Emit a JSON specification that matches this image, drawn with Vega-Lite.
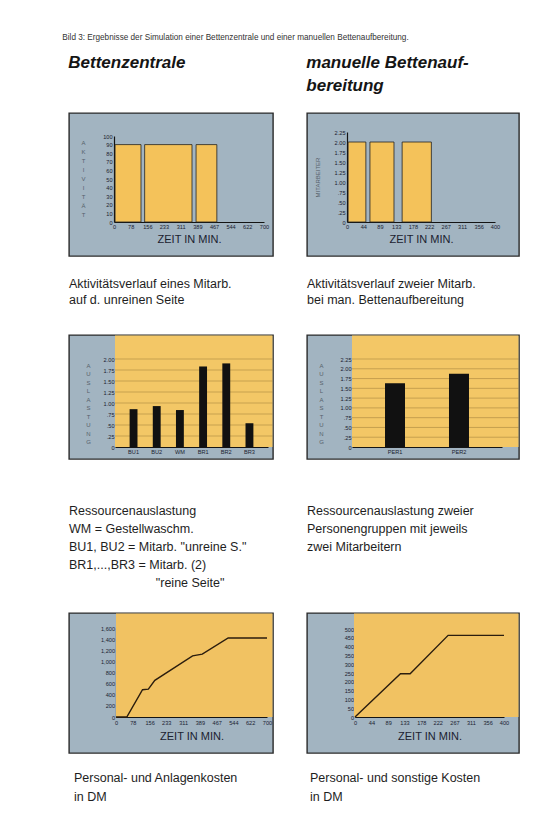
{
  "$schema": "https://vega.github.io/schema/vega-lite/v6.json",
  "background": "#ffffff",
  "padding": {"left": 62, "top": 33, "right": 4, "bottom": 4},
  "autosize": {"type": "pad"},
  "title": {"text": "Bild 3: Ergebnisse der Simulation einer Bettenzentrale und einer manuellen Bettenaufbereitung.", "anchor": "start", "fontSize": 8.2, "fontWeight": "normal", "color": "#333333", "dx": -6, "offset": 12},
  "spacing": 32,
  "hconcat": [
    {
      "title": {"text": ["Bettenzentrale", ""], "anchor": "start", "fontSize": 17, "fontWeight": "bold", "fontStyle": "italic", "lineHeight": 23, "offset": 17, "color": "#151515"},
      "spacing": 21,
      "vconcat": [
        {
          "width": 204, "height": 143,
          "title": {"text": ["Aktivitätsverlauf eines Mitarb.", "auf d. unreinen Seite"], "subtitle": " ", "subtitleFontSize": 4, "subtitlePadding": 1, "orient": "bottom", "anchor": "start", "offset": 22, "fontSize": 12.5, "lineHeight": 16},
          "data": {"values": [{"start": 5, "end": 126, "busy": 90}, {"start": 143, "end": 364, "busy": 90}, {"start": 383, "end": 480, "busy": 90}]},
          "mark": {"type": "rect", "fill": "#f4c25a", "stroke": "#222222", "strokeWidth": 0.8},
          "encoding": {
            "x": {"field": "start", "type": "quantitative", "scale": {"domain": [0, 700], "range": [45, 195], "nice": false, "zero": false}, "axis": {"values": [0, 78, 156, 233, 311, 389, 467, 544, 622, 700], "offset": -34, "title": "ZEIT IN MIN.", "titlePadding": 4}},
            "x2": {"field": "end"},
            "y": {"field": "busy", "type": "quantitative", "scale": {"domain": [0, 100], "range": [109, 23], "nice": false}, "axis": {"values": [0, 10, 20, 30, 40, 50, 60, 70, 80, 90, 100], "offset": -45, "title": ["A", "K", "T", "I", "V", "I", "T", "Ä", "T"], "titleAngle": 0, "titleX": -31, "titleY": 26, "titleAlign": "center", "titleBaseline": "top", "titleLineHeight": 9, "titleFontSize": 6, "titleColor": "#56616b"}},
            "y2": {"datum": 0}
          }
        },
        {
          "width": 204, "height": 124,
          "title": {"text": ["Ressourcenauslastung", "WM = Gestellwaschm.", "BU1, BU2 = Mitarb. \"unreine S.\"", "BR1,...,BR3 = Mitarb. (2)", "\u200b\u00a0\u00a0\u00a0\u00a0\u00a0\u00a0\u00a0\u00a0\u00a0\u00a0\u00a0\u00a0\u00a0\u00a0\u00a0\u00a0\u00a0\u00a0\u00a0\u00a0\u00a0\u00a0\u00a0\u00a0\u00a0\"reine Seite\""], "orient": "bottom", "anchor": "start", "offset": 46, "fontSize": 12.5, "lineHeight": 18},
          "resolve": {"scale": {"x": "independent", "y": "independent"}},
          "layer": [
            {
              "data": {"values": [{"area": "plot"}]},
              "mark": {"type": "rect", "fill": "#f3c766"},
              "encoding": {
                "x": {"datum": 0, "type": "quantitative", "scale": {"domain": [0, 1], "range": [46, 203.5]}, "axis": null},
                "x2": {"datum": 1},
                "y": {"datum": 0, "type": "quantitative", "scale": {"domain": [0, 1], "range": [112, 0.5]}, "axis": null},
                "y2": {"datum": 1}
              }
            },
            {
              "data": {"values": [{"g": 0.25}, {"g": 0.5}, {"g": 0.75}, {"g": 1}, {"g": 1.25}, {"g": 1.5}, {"g": 1.75}, {"g": 2}]},
              "mark": {"type": "rule", "color": "#6a5020", "opacity": 0.55, "strokeWidth": 0.6},
              "encoding": {
                "x": {"datum": 0, "type": "quantitative", "scale": {"domain": [0, 1], "range": [46, 203.5]}, "axis": null},
                "x2": {"datum": 1},
                "y": {"field": "g", "type": "quantitative", "scale": {"domain": [0, 2], "range": [112, 24], "nice": false}, "axis": null}
              }
            },
            {
              "data": {"values": [{"res": "BU1", "util": 0.86}, {"res": "BU2", "util": 0.93}, {"res": "WM", "util": 0.84}, {"res": "BR1", "util": 1.83}, {"res": "BR2", "util": 1.9}, {"res": "BR3", "util": 0.54}]},
              "mark": {"type": "bar", "color": "#111111"},
              "encoding": {
                "x": {"field": "res", "type": "nominal", "sort": null, "scale": {"type": "band", "range": [46, 199], "paddingInner": 0.66, "paddingOuter": 0.63}, "axis": {"labelAngle": 0, "offset": -12, "title": null}},
                "y": {"field": "util", "type": "quantitative", "scale": {"domain": [0, 2], "range": [112, 24], "nice": false}, "axis": {"values": [0, 0.25, 0.5, 0.75, 1, 1.25, 1.5, 1.75, 2], "labelExpr": "datum.value == 0 ? '0' : (datum.value < 1 ? replace(format(datum.value, '.2f'), '0.', '.') : format(datum.value, '.2f'))", "offset": -46, "domain": false, "labelPadding": 1, "title": ["A", "U", "S", "L", "A", "S", "T", "U", "N", "G"], "titleAngle": 0, "titleX": -27, "titleY": 27, "titleAlign": "center", "titleBaseline": "top", "titleLineHeight": 8.5, "titleFontSize": 6, "titleColor": "#56616b"}}
              }
            }
          ]
        },
        {
          "width": 204, "height": 140,
          "title": {"text": ["Personal- und Anlagenkosten", "in DM"], "orient": "bottom", "anchor": "start", "offset": 19, "fontSize": 12.5, "lineHeight": 19, "dx": 5},
          "resolve": {"scale": {"x": "independent", "y": "independent"}},
          "layer": [
            {
              "data": {"values": [{"area": "plot"}]},
              "mark": {"type": "rect", "fill": "#f1c262"},
              "encoding": {
                "x": {"datum": 0, "type": "quantitative", "scale": {"domain": [0, 1], "range": [47, 203.5]}, "axis": null},
                "x2": {"datum": 1},
                "y": {"datum": 0, "type": "quantitative", "scale": {"domain": [0, 1], "range": [104, 0.5]}, "axis": null},
                "y2": {"datum": 1}
              }
            },
            {
              "data": {"values": [{"t": 0, "dm": 0}, {"t": 50, "dm": 0}, {"t": 123, "dm": 490}, {"t": 150, "dm": 500}, {"t": 180, "dm": 660}, {"t": 355, "dm": 1100}, {"t": 400, "dm": 1130}, {"t": 520, "dm": 1420}, {"t": 700, "dm": 1420}]},
              "mark": {"type": "line", "color": "#2b1d0e", "strokeWidth": 1.4},
              "encoding": {
                "x": {"field": "t", "type": "quantitative", "scale": {"domain": [0, 700], "range": [47, 198], "nice": false, "zero": false}, "axis": {"values": [0, 78, 156, 233, 311, 389, 467, 544, 622, 700], "offset": -36, "labelPadding": 3, "title": "ZEIT IN MIN.", "titlePadding": 5}},
                "y": {"field": "dm", "type": "quantitative", "scale": {"domain": [0, 1600], "range": [104, 15], "nice": false}, "axis": {"values": [0, 200, 400, 600, 800, 1000, 1200, 1400, 1600], "format": ",d", "offset": -47, "labelPadding": 1.5, "title": null}}
              }
            }
          ]
        }
      ]
    },
    {
      "title": {"text": ["manuelle Bettenauf-", "bereitung"], "anchor": "start", "fontSize": 17, "fontWeight": "bold", "fontStyle": "italic", "lineHeight": 23, "offset": 17, "color": "#151515"},
      "spacing": 21,
      "vconcat": [
        {
          "width": 212, "height": 143,
          "title": {"text": ["Aktivitätsverlauf zweier Mitarb.", "bei man. Bettenaufbereitung"], "subtitle": " ", "subtitleFontSize": 4, "subtitlePadding": 1, "orient": "bottom", "anchor": "start", "offset": 22, "fontSize": 12.5, "lineHeight": 16},
          "data": {"values": [{"start": 3, "end": 51, "busy": 2}, {"start": 62, "end": 127, "busy": 2}, {"start": 149, "end": 228, "busy": 2}]},
          "mark": {"type": "rect", "fill": "#f4c25a", "stroke": "#222222", "strokeWidth": 0.8},
          "encoding": {
            "x": {"field": "start", "type": "quantitative", "scale": {"domain": [0, 400], "range": [40, 188], "nice": false, "zero": false}, "axis": {"values": [0, 44, 89, 133, 178, 222, 267, 311, 356, 400], "offset": -34, "title": "ZEIT IN MIN.", "titlePadding": 4}},
            "x2": {"field": "end"},
            "y": {"field": "busy", "type": "quantitative", "scale": {"domain": [0, 2.25], "range": [109, 19], "nice": false}, "axis": {"values": [0, 0.25, 0.5, 0.75, 1, 1.25, 1.5, 1.75, 2, 2.25], "labelExpr": "datum.value == 0 ? '0' : (datum.value < 1 ? replace(format(datum.value, '.2f'), '0.', '.') : format(datum.value, '.2f'))", "offset": -40, "title": "MITARBEITER", "titleX": -30, "titleY": 64, "titleAlign": "center", "titleBaseline": "middle", "titleFontSize": 6, "titleColor": "#56616b"}},
            "y2": {"datum": 0}
          }
        },
        {
          "width": 212, "height": 124,
          "title": {"text": ["Ressourcenauslastung zweier", "Personengruppen mit jeweils", "zwei Mitarbeitern", "", ""], "orient": "bottom", "anchor": "start", "offset": 46, "fontSize": 12.5, "lineHeight": 18},
          "resolve": {"scale": {"x": "independent", "y": "independent"}},
          "layer": [
            {
              "data": {"values": [{"area": "plot"}]},
              "mark": {"type": "rect", "fill": "#f3c766"},
              "encoding": {
                "x": {"datum": 0, "type": "quantitative", "scale": {"domain": [0, 1], "range": [45, 211.5]}, "axis": null},
                "x2": {"datum": 1},
                "y": {"datum": 0, "type": "quantitative", "scale": {"domain": [0, 1], "range": [112, 0.5]}, "axis": null},
                "y2": {"datum": 1}
              }
            },
            {
              "data": {"values": [{"g": 0.25}, {"g": 0.5}, {"g": 0.75}, {"g": 1}, {"g": 1.25}, {"g": 1.5}, {"g": 1.75}, {"g": 2}, {"g": 2.25}]},
              "mark": {"type": "rule", "color": "#6a5020", "opacity": 0.55, "strokeWidth": 0.6},
              "encoding": {
                "x": {"datum": 0, "type": "quantitative", "scale": {"domain": [0, 1], "range": [45, 211.5]}, "axis": null},
                "x2": {"datum": 1},
                "y": {"field": "g", "type": "quantitative", "scale": {"domain": [0, 2.25], "range": [112, 24], "nice": false}, "axis": null}
              }
            },
            {
              "data": {"values": [{"grp": "PER1", "util": 1.63}, {"grp": "PER2", "util": 1.87}]},
              "mark": {"type": "bar", "color": "#111111"},
              "encoding": {
                "x": {"field": "grp", "type": "nominal", "sort": null, "scale": {"type": "band", "range": [45, 195], "paddingInner": 0.6875, "paddingOuter": 0.516}, "axis": {"labelAngle": 0, "offset": -12, "title": null}},
                "y": {"field": "util", "type": "quantitative", "scale": {"domain": [0, 2.25], "range": [112, 24], "nice": false}, "axis": {"values": [0, 0.25, 0.5, 0.75, 1, 1.25, 1.5, 1.75, 2, 2.25], "labelExpr": "datum.value == 0 ? '0' : (datum.value < 1 ? replace(format(datum.value, '.2f'), '0.', '.') : format(datum.value, '.2f'))", "offset": -45, "domain": false, "labelPadding": 1, "title": ["A", "U", "S", "L", "A", "S", "T", "U", "N", "G"], "titleAngle": 0, "titleX": -31, "titleY": 27, "titleAlign": "center", "titleBaseline": "top", "titleLineHeight": 8.5, "titleFontSize": 6, "titleColor": "#56616b"}}
              }
            }
          ]
        },
        {
          "width": 212, "height": 140,
          "title": {"text": ["Personal- und sonstige Kosten", "in DM"], "orient": "bottom", "anchor": "start", "offset": 19, "fontSize": 12.5, "lineHeight": 19, "dx": 3},
          "resolve": {"scale": {"x": "independent", "y": "independent"}},
          "layer": [
            {
              "data": {"values": [{"area": "plot"}]},
              "mark": {"type": "rect", "fill": "#f1c262"},
              "encoding": {
                "x": {"datum": 0, "type": "quantitative", "scale": {"domain": [0, 1], "range": [47, 211.5]}, "axis": null},
                "x2": {"datum": 1},
                "y": {"datum": 0, "type": "quantitative", "scale": {"domain": [0, 1], "range": [104, 0.5]}, "axis": null},
                "y2": {"datum": 1}
              }
            },
            {
              "data": {"values": [{"t": 0, "dm": 0}, {"t": 122, "dm": 246}, {"t": 148, "dm": 246}, {"t": 250, "dm": 464}, {"t": 400, "dm": 464}]},
              "mark": {"type": "line", "color": "#2b1d0e", "strokeWidth": 1.4},
              "encoding": {
                "x": {"field": "t", "type": "quantitative", "scale": {"domain": [0, 400], "range": [48, 197], "nice": false, "zero": false}, "axis": {"values": [0, 44, 89, 133, 178, 222, 267, 311, 356, 400], "offset": -36, "labelPadding": 3, "title": "ZEIT IN MIN.", "titlePadding": 5}},
                "y": {"field": "dm", "type": "quantitative", "scale": {"domain": [0, 500], "range": [104, 16], "nice": false}, "axis": {"values": [0, 50, 100, 150, 200, 250, 300, 350, 400, 450, 500], "format": "d", "offset": -48, "labelPadding": 1.5, "title": null}}
              }
            }
          ]
        }
      ]
    }
  ],
  "config": {
    "font": "Liberation Sans",
    "view": {"fill": "#a2b4c1", "stroke": "#2a2a2a", "strokeWidth": 1.4},
    "axis": {"labelFont": "Liberation Sans", "labelFontSize": 5.6, "labelColor": "#1b2230", "labelPadding": 2, "ticks": false, "grid": false, "domainColor": "#141414", "domainWidth": 1.2, "titleFont": "Liberation Sans", "titleFontSize": 11, "titleFontWeight": "normal", "titleColor": "#1b2230", "labelFlush": false, "labelOverlap": false},
    "title": {"font": "Liberation Sans", "fontWeight": "normal", "color": "#1e1e1e"}
  }
}
